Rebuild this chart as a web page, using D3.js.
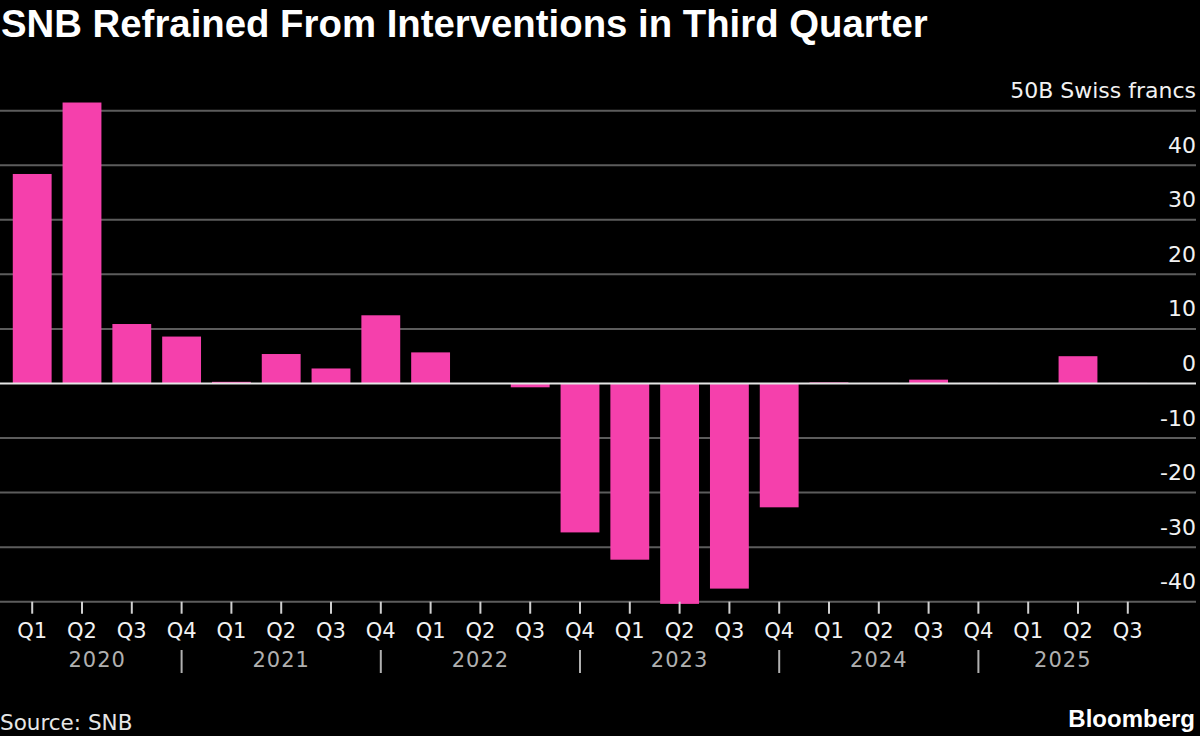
<!DOCTYPE html>
<html>
<head>
<meta charset="utf-8">
<script src="https://cdn.jsdelivr.net/npm/d3@7/dist/d3.min.js"></script>
<style>
  html, body { margin: 0; padding: 0; background: #000; }
  svg { display: block; }
</style>
</head>
<body>
<svg id="chart" width="1200" height="736"></svg>
<script>
// ---- Data ----
const quarters = ["Q1","Q2","Q3","Q4","Q1","Q2","Q3","Q4","Q1","Q2","Q3","Q4",
                  "Q1","Q2","Q3","Q4","Q1","Q2","Q3","Q4","Q1","Q2","Q3"];
const years = ["2020","2020","2020","2020","2021","2021","2021","2021","2022","2022","2022","2022",
               "2023","2023","2023","2023","2024","2024","2024","2024","2025","2025","2025"];
const interventions = [38.4, 51.5, 10.9, 8.6,
                       0.3, 5.4, 2.75, 12.5,
                       5.7, 0, -0.7, -27.3,
                       -32.3, -40.4, -37.6, -22.7,
                       0.2, 0.1, 0.7, 0.1,
                       0, 5.0, 0.1];
const yTicks = [50, 40, 30, 20, 10, 0, -10, -20, -30, -40];
const yTopLabel = "50B Swiss francs";
const yearList = ["2020","2021","2022","2023","2024","2025"];
const titleText = "SNB Refrained From Interventions in Third Quarter";
const sourceText = "Source: SNB";

// ---- Layout ----
const svg = d3.select("#chart");
const pink = "#f540ac";
const font = "'DejaVu Sans', sans-serif";

const ids = quarters.map((q, i) => years[i] + q);
const x = d3.scaleBand().domain(ids).range([7.3, 1152.7]).paddingInner(0.22).paddingOuter(0.11);
const y = d3.scaleLinear().domain([-40, 50]).range([601.7, 110.7]);
const gridRight = 1196;

// Gridlines
svg.append("g").selectAll("line").data(yTicks.filter(d => d !== 0)).join("line")
  .attr("x1", 0).attr("x2", gridRight)
  .attr("y1", d => y(d)).attr("y2", d => y(d))
  .attr("stroke", "#5c5c5c").attr("stroke-width", 2);

// Bars
svg.append("g").selectAll("rect").data(interventions).join("rect")
  .attr("x", (d, i) => x(ids[i]))
  .attr("width", x.bandwidth())
  .attr("y", d => y(Math.max(0, d)))
  .attr("height", d => Math.abs(y(d) - y(0)))
  .attr("fill", pink);

// Zero line
svg.append("line")
  .attr("x1", 0).attr("x2", gridRight)
  .attr("y1", y(0)).attr("y2", y(0))
  .attr("stroke", "#e6e6e6").attr("stroke-width", 2);

// Y labels (right, above gridlines)
svg.append("g").selectAll("text").data(yTicks).join("text")
  .attr("x", gridRight).attr("y", d => y(d) - 12.5)
  .attr("text-anchor", "end")
  .attr("font-family", font).attr("font-size", 22)
  .attr("fill", "#f2f2f2")
  .text(d => d === 50 ? yTopLabel : String(d));

// X ticks
const axisY = y(-40);
svg.append("g").selectAll("line").data(ids).join("line")
  .attr("x1", d => x(d) + x.bandwidth() / 2).attr("x2", d => x(d) + x.bandwidth() / 2)
  .attr("y1", axisY).attr("y2", axisY + 12)
  .attr("stroke", "#d0d0d0").attr("stroke-width", 2);

// Quarter labels
svg.append("g").selectAll("text").data(ids).join("text")
  .attr("x", d => x(d) + x.bandwidth() / 2).attr("y", 638)
  .attr("text-anchor", "middle")
  .attr("font-family", font).attr("font-size", 21)
  .attr("fill", "#f2f2f2")
  .text((d, i) => quarters[i]);

// Year separators
const yearBounds = yearList.map(yr => {
  const idx = years.map((v, i) => v === yr ? i : -1).filter(i => i >= 0);
  return { yr, first: idx[0], last: idx[idx.length - 1] };
});
const center = i => x(ids[i]) + x.bandwidth() / 2;
svg.append("g").selectAll("line").data(yearBounds.slice(0, -1)).join("line")
  .attr("x1", d => center(d.last)).attr("x2", d => center(d.last))
  .attr("y1", 650).attr("y2", 673)
  .attr("stroke", "#b0b0b0").attr("stroke-width", 2);

// Year labels
svg.append("g").selectAll("text").data(yearBounds).join("text")
  .attr("x", (d, k) => {
    const left = k === 0 ? x(ids[d.first]) : center(yearBounds[k - 1].last);
    const right = k === yearBounds.length - 1 ? x(ids[d.last]) + x.bandwidth() : center(d.last);
    return (left + right) / 2;
  })
  .attr("y", 667)
  .attr("text-anchor", "middle")
  .attr("font-family", font).attr("font-size", 21)
  .attr("letter-spacing", 1)
  .attr("fill", "#b0b0b0")
  .text(d => d.yr);

// Title
const title = svg.append("text")
  .attr("x", 1).attr("y", 37)
  .attr("font-family", "'Liberation Sans', Arial, sans-serif")
  .attr("font-weight", "bold").attr("font-size", 32)
  .attr("fill", "#ffffff")
  .text(titleText);
const tl = title.node().getComputedTextLength();
if (tl > 0) title.attr("font-size", Math.min(39, 32 * 927 / tl));

// Source
svg.append("text")
  .attr("x", 0).attr("y", 730)
  .attr("font-family", font).attr("font-size", 21.5)
  .attr("fill", "#e6e6e6")
  .text(sourceText);

// Bloomberg
svg.append("text")
  .attr("x", 1195).attr("y", 727)
  .attr("text-anchor", "end")
  .attr("font-family", "'Liberation Sans', Arial, sans-serif")
  .attr("font-weight", "bold").attr("font-size", 24)
  .attr("fill", "#ffffff")
  .text("Bloomberg");
</script>
</body>
</html>
